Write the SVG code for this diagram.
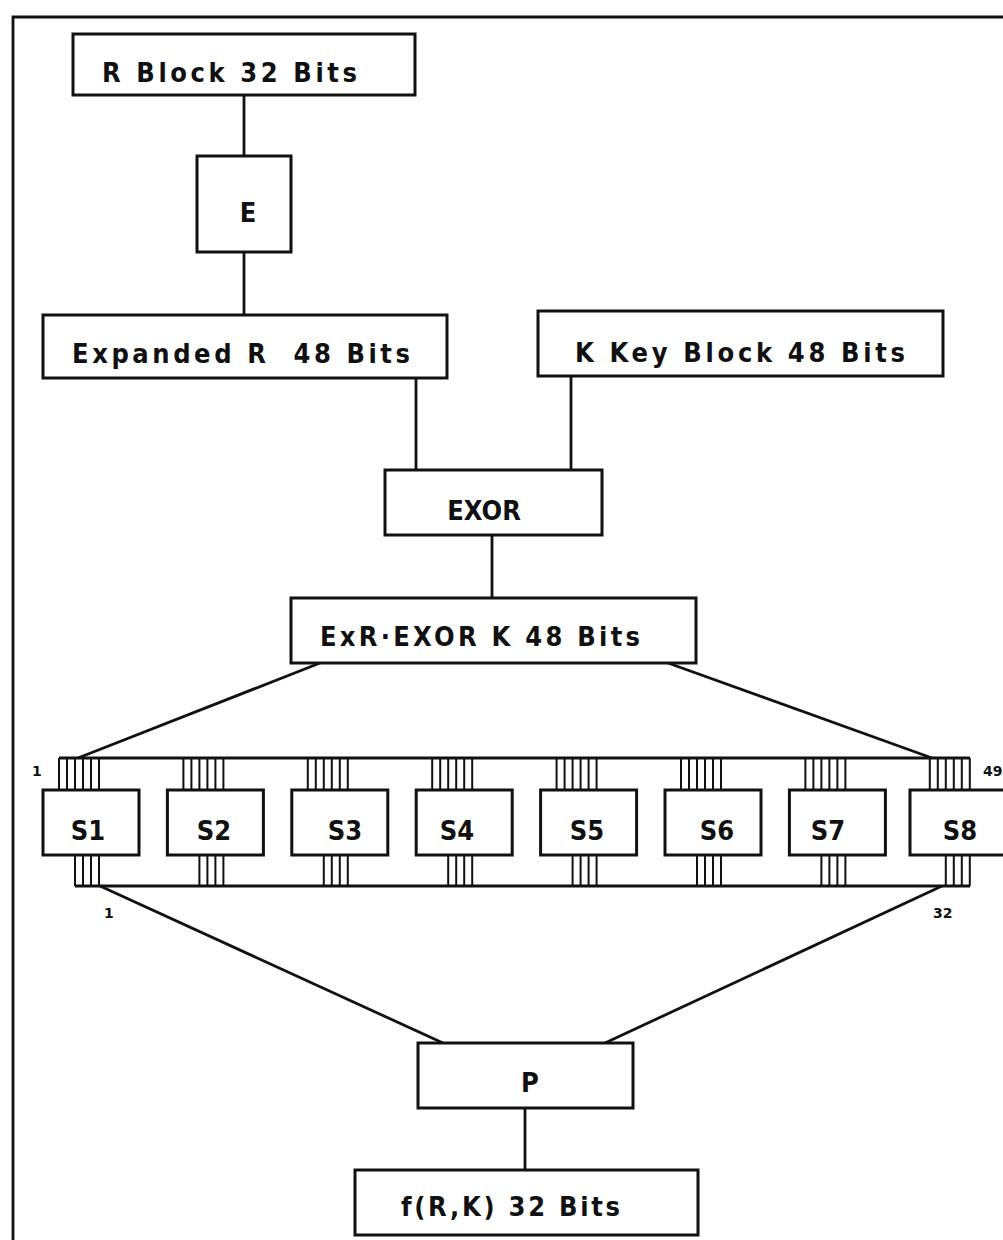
<svg xmlns="http://www.w3.org/2000/svg" width="1003" height="1240" viewBox="0 0 1003 1240">
<style>
.box{fill:#fff;stroke:#111;stroke-width:3}
.ln{stroke:#111;stroke-width:2.8;fill:none}
.pin{stroke:#111;stroke-width:2}
.t{font-family:"DejaVu Sans Condensed","DejaVu Sans","Liberation Sans",sans-serif;font-stretch:condensed;font-weight:bold;font-size:27px;fill:#111}
.m{text-anchor:middle}
.s{font-family:"DejaVu Sans","Liberation Sans",sans-serif;font-weight:bold;font-size:14px;fill:#111}
</style>
<rect width="1003" height="1240" fill="#fff"/>
<g id="frame">
<path class="ln" d="M13,1240 L13,17 L1003,17" stroke-width="3"/>
</g>
<g id="connectors">
<path class="ln" d="M244,95 V156"/>
<path class="ln" d="M244,252 V315"/>
<path class="ln" d="M416,378 V470"/>
<path class="ln" d="M571,376 V470"/>
<path class="ln" d="M492,535 V598"/>
<path class="ln" d="M320,663 L78,758"/>
<path class="ln" d="M668,663 L932,758"/>
<path class="ln" d="M59,758 H970"/>
<path class="ln" d="M75,886 H970"/>
<path class="ln" d="M100,886 L443,1043"/>
<path class="ln" d="M942,886 L605,1043"/>
<path class="ln" d="M525,1108 V1170"/>
</g>
<g id="pins">
<path class="pin" d="M59,758V790M67,758V790M75,758V790M83,758V790M91,758V790M99,758V790M75,855V886M83,855V886M91,855V886M99,855V886"/>
<path class="pin" transform="translate(124.4,0)" d="M59,758V790M67,758V790M75,758V790M83,758V790M91,758V790M99,758V790M75,855V886M83,855V886M91,855V886M99,855V886"/>
<path class="pin" transform="translate(248.8,0)" d="M59,758V790M67,758V790M75,758V790M83,758V790M91,758V790M99,758V790M75,855V886M83,855V886M91,855V886M99,855V886"/>
<path class="pin" transform="translate(373.2,0)" d="M59,758V790M67,758V790M75,758V790M83,758V790M91,758V790M99,758V790M75,855V886M83,855V886M91,855V886M99,855V886"/>
<path class="pin" transform="translate(497.6,0)" d="M59,758V790M67,758V790M75,758V790M83,758V790M91,758V790M99,758V790M75,855V886M83,855V886M91,855V886M99,855V886"/>
<path class="pin" transform="translate(622,0)" d="M59,758V790M67,758V790M75,758V790M83,758V790M91,758V790M99,758V790M75,855V886M83,855V886M91,855V886M99,855V886"/>
<path class="pin" transform="translate(746.4,0)" d="M59,758V790M67,758V790M75,758V790M83,758V790M91,758V790M99,758V790M75,855V886M83,855V886M91,855V886M99,855V886"/>
<path class="pin" transform="translate(870.8,0)" d="M59,758V790M67,758V790M75,758V790M83,758V790M91,758V790M99,758V790M75,855V886M83,855V886M91,855V886M99,855V886"/>
<text class="s" x="32" y="776">1</text>
<text class="s" x="983" y="776">49</text>
<text class="s" x="104" y="918">1</text>
<text class="s" x="933" y="918">32</text>
</g>
<g id="rblock"><rect class="box" x="73" y="34" width="342" height="61"/><text class="t" x="102" y="82" textLength="255" lengthAdjust="spacing">R Block 32 Bits</text></g>
<g id="e"><rect class="box" x="197" y="156" width="94" height="96"/><text class="t m" x="248" y="222">E</text></g>
<g id="expanded"><rect class="box" x="43" y="315" width="404" height="63"/><text class="t" x="72" y="363" textLength="338" lengthAdjust="spacing" xml:space="preserve">Expanded R  48 Bits</text></g>
<g id="key"><rect class="box" x="538" y="311" width="405" height="65"/><text class="t" x="575" y="362" textLength="330" lengthAdjust="spacing">K Key Block 48 Bits</text></g>
<g id="exor"><rect class="box" x="385" y="470" width="217" height="65"/><text class="t m" x="484" y="520">EXOR</text></g>
<g id="exrk"><rect class="box" x="291" y="598" width="405" height="65"/><text class="t" x="320" y="646" textLength="320" lengthAdjust="spacing">ExR·EXOR K 48 Bits</text></g>
<g id="s1"><rect class="box" x="43" y="790" width="96" height="65"/><text class="t m" x="88" y="840">S1</text></g>
<g id="s2"><rect class="box" x="167.4" y="790" width="96" height="65"/><text class="t m" x="214" y="840">S2</text></g>
<g id="s3"><rect class="box" x="291.8" y="790" width="96" height="65"/><text class="t m" x="345" y="840">S3</text></g>
<g id="s4"><rect class="box" x="416.2" y="790" width="96" height="65"/><text class="t m" x="457" y="840">S4</text></g>
<g id="s5"><rect class="box" x="540.6" y="790" width="96" height="65"/><text class="t m" x="587" y="840">S5</text></g>
<g id="s6"><rect class="box" x="665" y="790" width="96" height="65"/><text class="t m" x="717" y="840">S6</text></g>
<g id="s7"><rect class="box" x="789.4" y="790" width="96" height="65"/><text class="t m" x="828" y="840">S7</text></g>
<g id="s8"><rect class="box" x="910" y="790" width="100" height="65"/><text class="t m" x="960" y="840">S8</text></g>
<g id="p"><rect class="box" x="418" y="1043" width="215" height="65"/><text class="t m" x="530" y="1092">P</text></g>
<g id="frk"><rect class="box" x="355" y="1170" width="343" height="65"/><text class="t" x="401" y="1216" textLength="219" lengthAdjust="spacing">f(R,K) 32 Bits</text></g>
</svg>
